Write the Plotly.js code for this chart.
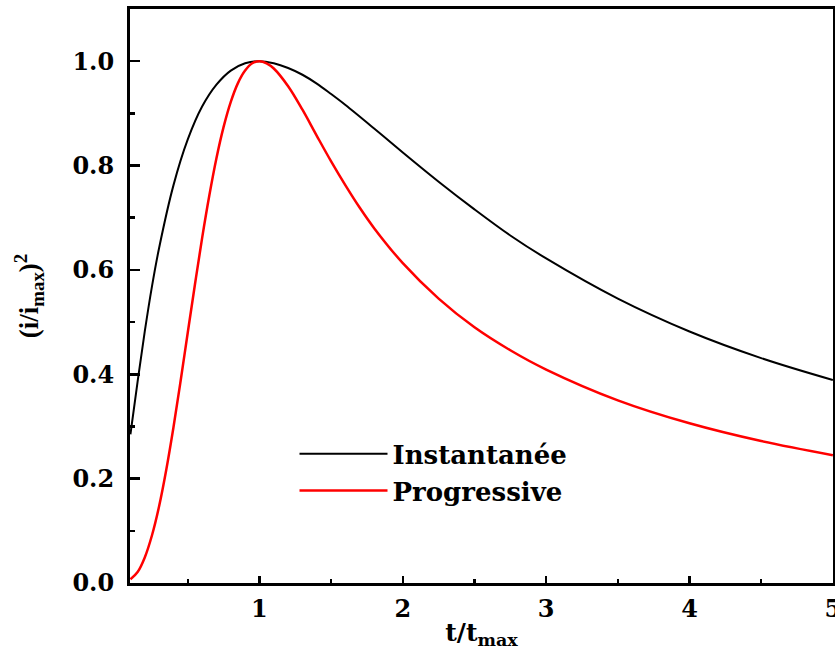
<!DOCTYPE html>
<html>
<head>
<meta charset="utf-8">
<script src="https://cdn.plot.ly/plotly-3.0.1.min.js"></script>
<style>html,body{margin:0;padding:0;background:#fff;}#chart{width:835px;height:651px;}</style>
</head>
<body>
<div id="chart"></div>
<script>
// t / t_max values and the read-off (i/i_max)^2 values
const tInst = [0.1, 0.15, 0.2, 0.25, 0.3, 0.4, 0.5, 0.6, 0.7, 0.8, 0.9, 1.0, 1.1, 1.2, 1.3, 1.4, 1.5, 1.6, 1.8, 2.0, 2.25, 2.5, 2.75, 3.0, 3.5, 4.0, 4.5, 5.0];
const yInst = [0.285, 0.386, 0.482, 0.568, 0.642, 0.762, 0.850, 0.913, 0.955, 0.982, 0.996, 1.0, 0.996, 0.987, 0.974, 0.957, 0.937, 0.916, 0.871, 0.825, 0.769, 0.716, 0.666, 0.622, 0.545, 0.482, 0.431, 0.389];

const tProg = [0.1, 0.15, 0.2, 0.25, 0.3, 0.35, 0.4, 0.45, 0.5, 0.55, 0.6, 0.65, 0.7, 0.75, 0.8, 0.85, 0.9, 0.95, 1.0, 1.05, 1.1, 1.2, 1.3, 1.4, 1.5, 1.6, 1.7, 1.8, 2.0, 2.25, 2.5, 2.75, 3.0, 3.5, 4.0, 4.5, 5.0];
const yProg = [0.007, 0.021, 0.049, 0.091, 0.147, 0.217, 0.298, 0.387, 0.480, 0.572, 0.661, 0.742, 0.814, 0.874, 0.922, 0.958, 0.982, 0.996, 1.0, 0.996, 0.986, 0.952, 0.907, 0.857, 0.808, 0.762, 0.719, 0.680, 0.613, 0.545, 0.490, 0.446, 0.409, 0.350, 0.306, 0.272, 0.245];

const seriesNames = ["Instantanée", "Progressive"];
const xTicks = [1, 2, 3, 4, 5];
const yTicks = [0.0, 0.2, 0.4, 0.6, 0.8, 1.0];
const yTickText = ["0.0", "0.2", "0.4", "0.6", "0.8", "1.0"];

const BOLD = "DejaVu Serif, serif";
const SERIF = "Liberation Serif, serif";

const traces = [
  {x: tInst, y: yInst, mode: "lines", name: "<b>" + seriesNames[0] + "</b>",
   line: {color: "#000000", width: 2, shape: "spline", smoothing: 1}},
  {x: tProg, y: yProg, mode: "lines", name: "<b>" + seriesNames[1] + "</b>",
   line: {color: "#ff0000", width: 2.5, shape: "spline", smoothing: 1}}
];

const layout = {
  width: 835, height: 651,
  paper_bgcolor: "#ffffff", plot_bgcolor: "#ffffff",
  margin: {l: 130, r: 2, t: 9, b: 68},
  font: {family: BOLD, color: "#000"},
  showlegend: true,
  legend: {x: 0.234, y: 0.266, xanchor: "left", yanchor: "top",
           bgcolor: "rgba(0,0,0,0)", borderwidth: 0,
           font: {family: BOLD, size: 26, color: "#000"},
           itemwidth: 88, tracegroupgap: 0},
  xaxis: {
    range: [0.097, 5.001], tickvals: xTicks, ticktext: xTicks.map(String),
    ticks: "inside", ticklen: 7, tickwidth: 2.5, tickcolor: "#000",
    minor: {dtick: 0.5, tick0: 0, ticks: "inside", ticklen: 4, tickwidth: 2.5, tickcolor: "#000"},
    showline: true, linewidth: 3, linecolor: "#000", mirror: true,
    showgrid: false, zeroline: false,
    ticklabeloverflow: "allow",
    tickfont: {family: BOLD, size: 24, color: "#000", weight: "bold"},
    ticklabelstandoff: 2,
    title: {text: "<b>t/t<sub>max</sub></b>", font: {family: BOLD, size: 25, color: "#000"}, standoff: 2}
  },
  yaxis: {
    range: [0, 1.1], tickvals: yTicks, ticktext: yTickText,
    ticks: "inside", ticklen: 10, tickwidth: 2.5, tickcolor: "#000",
    minor: {dtick: 0.1, tick0: 0, ticks: "inside", ticklen: 5, tickwidth: 2.5, tickcolor: "#000"},
    showline: true, linewidth: 3, linecolor: "#000", mirror: true,
    showgrid: false, zeroline: false,
    tickfont: {family: BOLD, size: 24, color: "#000", weight: "bold"},
    ticklabelstandoff: 8,
    title: {text: "<b>(i/i<sub>max</sub>)<sup>2</sup></b>", font: {family: SERIF, size: 27, color: "#000"}, standoff: 26}
  }
};

Plotly.newPlot("chart", traces, layout, {displayModeBar: false, staticPlot: true});
</script>
</body>
</html>
